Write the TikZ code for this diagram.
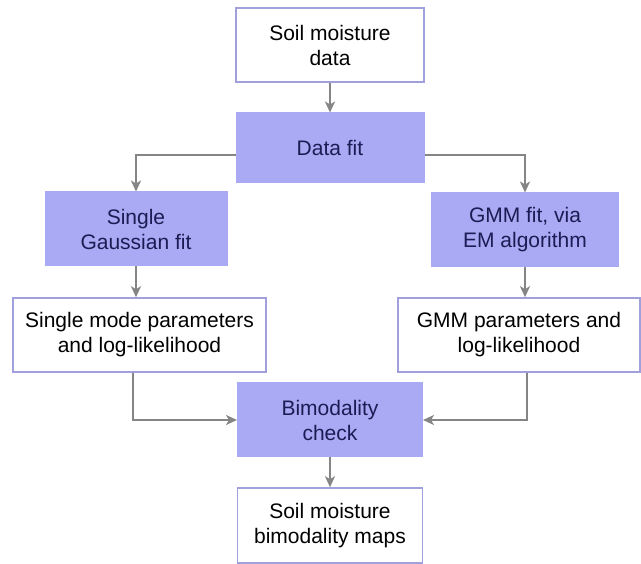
\documentclass[tikz,border=0pt]{standalone}
\usepackage{fontspec}
\setmainfont{Liberation Sans}
\usetikzlibrary{arrows.meta}
\definecolor{boxfill}{HTML}{A9A9F4}
\definecolor{boxline}{HTML}{A0A0DC}
\definecolor{navytext}{HTML}{1C1C55}
\definecolor{arrowgray}{HTML}{858585}
\tikzset{
  base/.style={rectangle, inner sep=0pt, align=center, font=\fontsize{21}{25}\selectfont},
  whitebox/.style={base, draw=boxline, line width=1.6pt, fill=white, text=black},
  fillbox/.style={base, fill=boxfill, draw=boxfill, line width=1pt, text=navytext},
  conn/.style={draw=arrowgray, line width=2pt, -{Stealth[length=11pt,width=10pt,inset=3pt]}}
}
\begin{document}
\begin{tikzpicture}[x=1pt,y=-1pt]
\useasboundingbox[fill=white] (0,0) rectangle (641,564);
\node[whitebox, minimum width=188pt, minimum height=74pt] (n1) at (330,45) {Soil moisture\\data};
\node[fillbox, minimum width=188pt, minimum height=70pt] (n2) at (330,148) {Data fit};
\node[fillbox, minimum width=182pt, minimum height=74pt] (n3) at (136,229) {Single\\Gaussian fit};
\node[fillbox, minimum width=187pt, minimum height=74pt] (n4) at (525,230) {GMM fit, via\\EM algorithm};
\node[whitebox, minimum width=253pt, minimum height=74pt] (n5) at (139.5,335) {Single mode parameters\\and log-likelihood};
\node[whitebox, minimum width=242pt, minimum height=74pt] (n6) at (519,335) {GMM parameters and\\log-likelihood};
\node[fillbox, minimum width=185pt, minimum height=74pt] (n7) at (330,420) {Bimodality\\check};
\node[whitebox, minimum width=185pt, minimum height=75pt] (n8) at (330,525.5) {Soil moisture\\bimodality maps};
\draw[conn] (n1) -- (n2);
\draw[conn] ([yshift=-7pt]n2.west) -| (n3.north);
\draw[conn] ([yshift=-7pt]n2.east) -| (n4.north);
\draw[conn] (n3) -- (n3 |- n5.north);
\draw[conn] (n4) -- (n4 |- n6.north);
\draw[conn] ([xshift=-7pt]n5.south) |- (n7.west);
\draw[conn] ([xshift=8pt]n6.south) |- (n7.east);
\draw[conn] (n7) -- (n8);
\end{tikzpicture}
\end{document}
